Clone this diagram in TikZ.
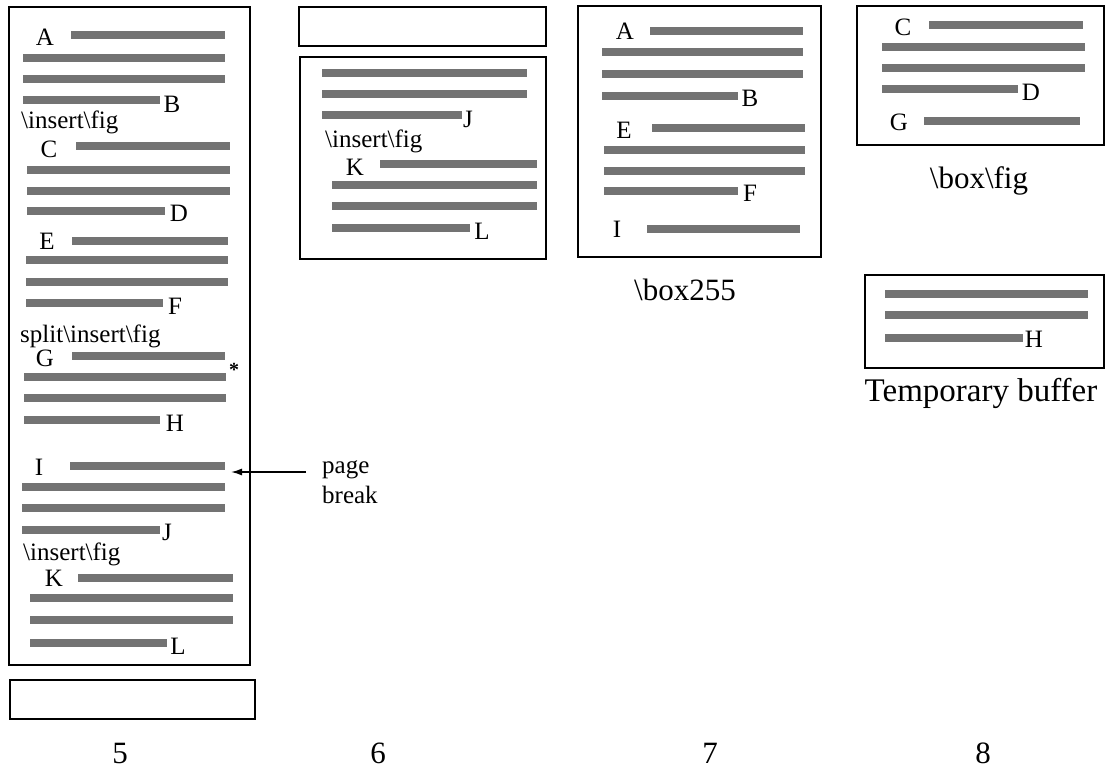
\documentclass[tikz,border=0pt]{standalone}
\usepackage{fontspec}
\setmainfont{Liberation Serif}
\usetikzlibrary{arrows.meta}
\newcommand\gbar[3]{\fill[barfill] (#1,#2) ++(0,-4) rectangle ++({#3-#1},8);}
\tikzset{
  barfill/.style={black!55},
  frame/.style={draw, line width=1.6pt},
  lt/.style={inner sep=0pt, font=\fontsize{25}{30}\selectfont},
  lbl/.style={inner sep=0pt, font=\fontsize{31}{36}\selectfont},
}
\begin{document}
\begin{tikzpicture}[x=1pt,y=-1pt]
\useasboundingbox (0,0) rectangle (1107,769);
% ---------------- column 5
\draw[frame] (9,7) rectangle (250,665);
\draw[frame] (10,680) rectangle (255,719);
\node[lt] (a5) at (45,37) {A}; \gbar{71}{35}{225}
\gbar{23}{58}{225}
\gbar{23}{79}{225}
\gbar{23}{100}{160} \node[lt] (b5) at (172,104) {B};
\node[lt, anchor=base west] (ins1) at (21,128) {\textbackslash insert\textbackslash fig};
\node[lt] (c5) at (49,149) {C}; \gbar{76}{146}{230}
\gbar{27}{170}{230}
\gbar{27}{191}{230}
\gbar{27}{211}{165} \node[lt] (d5) at (179,213) {D};
\node[lt] (e5) at (47,241) {E}; \gbar{72}{241}{228}
\gbar{26}{260}{228}
\gbar{26}{282}{228}
\gbar{26}{303}{163} \node[lt] (f5) at (175,306) {F};
\node[lt, anchor=base west] (ins2) at (20,342) {split\textbackslash insert\textbackslash fig};
\node[lt] (g5) at (45,358) {G}; \gbar{72}{356}{225}
\node[lt, font=\fontsize{20}{22}\selectfont\bfseries] (star) at (234,370) {*};
\gbar{24}{377}{226}
\gbar{24}{398}{226}
\gbar{24}{420}{160} \node[lt] (h5) at (175,423) {H};
\node[lt] (i5) at (39,467) {I}; \gbar{70}{466}{225}
\gbar{22}{487}{225}
\gbar{22}{508}{225}
\gbar{22}{530}{160} \node[lt] (j5) at (167,532) {J};
\node[lt, anchor=base west] (ins3) at (23,560) {\textbackslash insert\textbackslash fig};
\node[lt] (k5) at (54,578) {K}; \gbar{78}{578}{233}
\gbar{30}{598}{233}
\gbar{30}{620}{233}
\gbar{30}{643}{167} \node[lt] (l5) at (178,646) {L};
\coordinate (pbs) at (306,472);
\coordinate (pbe) at (231,472);
\draw[line width=1.5pt, -{Latex[length=11pt,width=7pt]}] (pbs) -- (pbe);
\node[lt, anchor=base west, align=left] (pb1) at (322,473) {page};
\node[lt, anchor=base west, align=left] (pb2) at (322,503) {break};
\node[lbl, anchor=base] (n5) at (120,763) {5};
% ---------------- column 6
\draw[frame] (299,7) rectangle (546,46);
\draw[frame] (300,57) rectangle (546,259);
\gbar{322}{73}{527}
\gbar{322}{94}{527}
\gbar{322}{115}{462} \node[lt] (j6) at (468,119) {J};
\node[lt, anchor=base west] (ins4) at (325,147) {\textbackslash insert\textbackslash fig};
\node[lt] (k6) at (355,167) {K}; \gbar{380}{164}{537}
\gbar{332}{185}{537}
\gbar{332}{206}{537}
\gbar{332}{228}{470} \node[lt] (l6) at (482,231) {L};
\node[lbl, anchor=base] (n6) at (378,763) {6};
% ---------------- column 7
\draw[frame] (578,6) rectangle (821,257);
\node[lt] (a7) at (625,31) {A}; \gbar{650}{31}{803}
\gbar{602}{52}{803}
\gbar{602}{74}{803}
\gbar{602}{96}{738} \node[lt] (b7) at (750,98) {B};
\node[lt] (e7) at (624,130) {E}; \gbar{652}{128}{805}
\gbar{604}{150}{805}
\gbar{604}{171}{805}
\gbar{604}{191}{738} \node[lt] (f7) at (750,193) {F};
\node[lt] (i7) at (617,229) {I}; \gbar{647}{229}{800}
\node[lbl, anchor=base] (box255) at (685,300) {\textbackslash box255};
\node[lbl, anchor=base] (n7) at (710,763) {7};
% ---------------- column 8
\draw[frame] (857,6) rectangle (1104,145);
\node[lt] (c8) at (903,27) {C}; \gbar{929}{25}{1083}
\gbar{882}{47}{1085}
\gbar{882}{68}{1085}
\gbar{882}{89}{1018} \node[lt] (d8) at (1031,92) {D};
\node[lt] (g8) at (899,122) {G}; \gbar{924}{121}{1080}
\node[lbl, anchor=base] (boxfig) at (979,188) {\textbackslash box\textbackslash fig};
\draw[frame] (865,275) rectangle (1104,368);
\gbar{885}{294}{1088}
\gbar{885}{315}{1088}
\gbar{885}{338}{1023} \node[lt] (h8) at (1034,339) {H};
\node[lbl, anchor=base, font=\fontsize{33}{38}\selectfont] (tbuf) at (981,401) {Temporary buffer};
\node[lbl, anchor=base] (n8) at (983,763) {8};
\end{tikzpicture}
\end{document}
